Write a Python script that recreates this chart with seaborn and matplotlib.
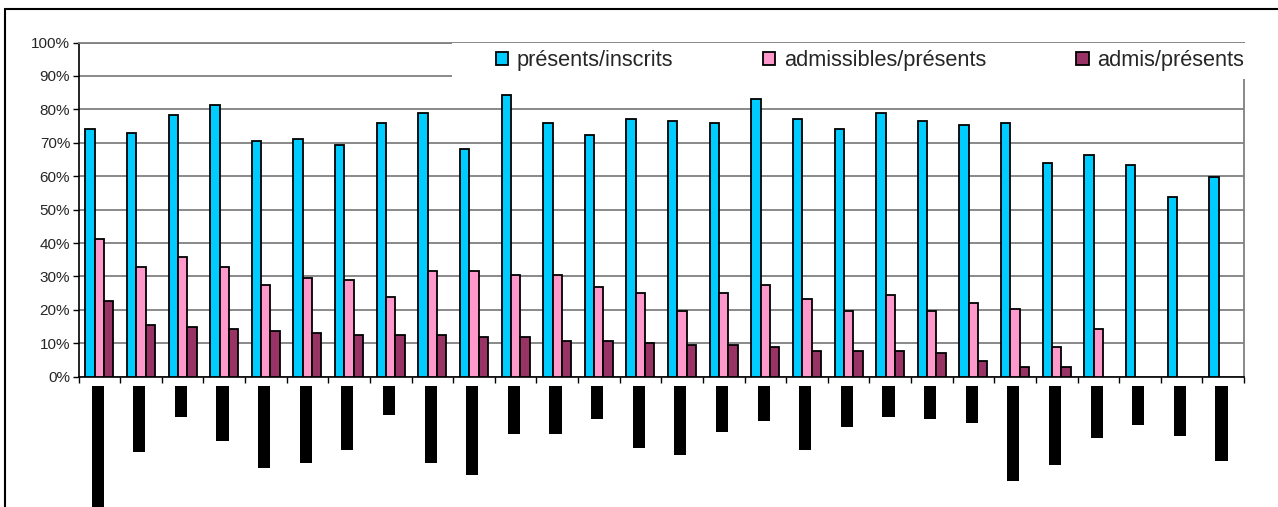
import numpy as np
import pandas as pd
import matplotlib
matplotlib.use("Agg")
import matplotlib.pyplot as plt
from matplotlib.patches import Rectangle, Patch
from matplotlib.lines import Line2D
from matplotlib.ticker import FuncFormatter
import seaborn as sns

nan = np.nan

# One group per session (category names are masked on the chart)
categories = [f"S{i:02d}" for i in range(1, 29)]

series_names = ["présents/inscrits", "admissibles/présents", "admis/présents"]
series_colors = ["#00CCFF", "#FF99CC", "#993366"]

presents_inscrits = [74.2, 73.0, 78.3, 81.3, 70.6, 71.2, 69.4, 75.9, 78.9, 68.2,
                     84.3, 75.9, 72.4, 77.1, 76.5, 75.9, 83.1, 77.1, 74.2, 78.9,
                     76.5, 75.3, 75.9, 64.0, 66.4, 63.4, 53.9, 59.8]
admissibles_presents = [41.2, 32.8, 35.8, 32.8, 27.4, 29.4, 28.8, 23.9, 31.6, 31.6,
                        30.4, 30.4, 26.8, 25.0, 19.7, 25.0, 27.4, 23.3, 19.7, 24.5,
                        19.7, 22.1, 20.3, 8.9, 14.3, nan, nan, nan]
admis_presents = [22.7, 15.6, 15.0, 14.4, 13.8, 13.2, 12.6, 12.6, 12.6, 12.0,
                  12.0, 10.8, 10.8, 10.2, 9.6, 9.6, 9.0, 7.8, 7.8, 7.8,
                  7.2, 4.8, 3.0, 3.0, nan, nan, nan, nan]

# Length of the masked category labels under the axis (in % units of the y scale)
label_lengths = [36.5, 19.5, 9.3, 16.2, 24.5, 23.0, 18.9, 8.7, 23.0, 26.6,
                 14.1, 14.1, 9.9, 18.3, 20.6, 13.5, 10.5, 18.9, 12.3, 9.3,
                 9.9, 11.1, 28.4, 23.6, 15.3, 11.7, 14.7, 22.4]

y_ticks = list(range(0, 101, 10))

df = pd.DataFrame({
    "categorie": categories * 3,
    "serie": [series_names[0]] * 28 + [series_names[1]] * 28 + [series_names[2]] * 28,
    "valeur": presents_inscrits + admissibles_presents + admis_presents,
})

sns.set_style("white")
plt.rcParams["font.family"] = ["Liberation Sans", "DejaVu Sans"]

W, H = 1278, 507
fig = plt.figure(figsize=(W / 100, H / 100), dpi=100)
ax = fig.add_axes([78.5 / W, (H - 376.7) / H, (1244 - 78.5) / W, (376.7 - 42.5) / H])

sns.barplot(data=df, x="categorie", y="valeur", hue="serie",
            hue_order=series_names, palette=series_colors, saturation=1,
            width=0.67, edgecolor="black", linewidth=1.3,
            errorbar=None, legend=False, ax=ax, zorder=3)

ax.set_ylim(0, 100)
ax.set_xlim(-0.5, len(categories) - 0.5)
ax.set_yticks(y_ticks)
ax.yaxis.set_major_formatter(FuncFormatter(lambda v, p: f"{v:.0f}%"))
ax.set_xticks(np.arange(-0.5, len(categories), 1.0))
ax.set_xticklabels([])
ax.set_xlabel("")
ax.set_ylabel("")

ax.grid(axis="y", color="#808080", linewidth=1.3, zorder=0)
ax.set_axisbelow(True)
ax.tick_params(axis="y", direction="out", length=4, width=1, color="black",
               labelsize=11, pad=2, left=True)
ax.tick_params(axis="x", direction="out", length=4, width=1, color="black", bottom=True)

for side in ["left", "bottom"]:
    ax.spines[side].set_color("black")
    ax.spines[side].set_linewidth(1.2)
for side in ["top", "right"]:
    ax.spines[side].set_color("#808080")
    ax.spines[side].set_linewidth(1.3)

# Masked category labels: black blocks hanging under the x axis
x_pos = np.arange(len(categories)) - 0.04
ax.bar(x_pos, [-l for l in label_lengths], bottom=-2.9, width=0.29,
       color="black", linewidth=0, clip_on=False, zorder=3)

# White area behind the legend
fig.patches.append(Rectangle((452 / W, 1 - 79 / H), (1252 - 452) / W, (79 - 43.5) / H,
                             transform=fig.transFigure, facecolor="white",
                             edgecolor="none", zorder=1))

handles = [Patch(facecolor=c, edgecolor="black", linewidth=1.3) for c in series_colors]
leg = fig.legend(handles, series_names, loc="center left",
                 bbox_to_anchor=(496 / W, 1 - 60.5 / H), ncol=3, frameon=False,
                 fontsize=15.7, borderpad=0, borderaxespad=0,
                 handlelength=0.56, handleheight=0.56, handletextpad=0.39,
                 columnspacing=4.13)
leg.set_zorder(5)

# Outer chart frame
fig.lines.append(Line2D([5 / W, 5 / W], [0, 1 - 8.5 / H], transform=fig.transFigure,
                        color="black", linewidth=1.5))
fig.lines.append(Line2D([5 / W, 1], [1 - 8.5 / H, 1 - 8.5 / H], transform=fig.transFigure,
                        color="black", linewidth=1.5))

fig.savefig("out.png", dpi=100)
